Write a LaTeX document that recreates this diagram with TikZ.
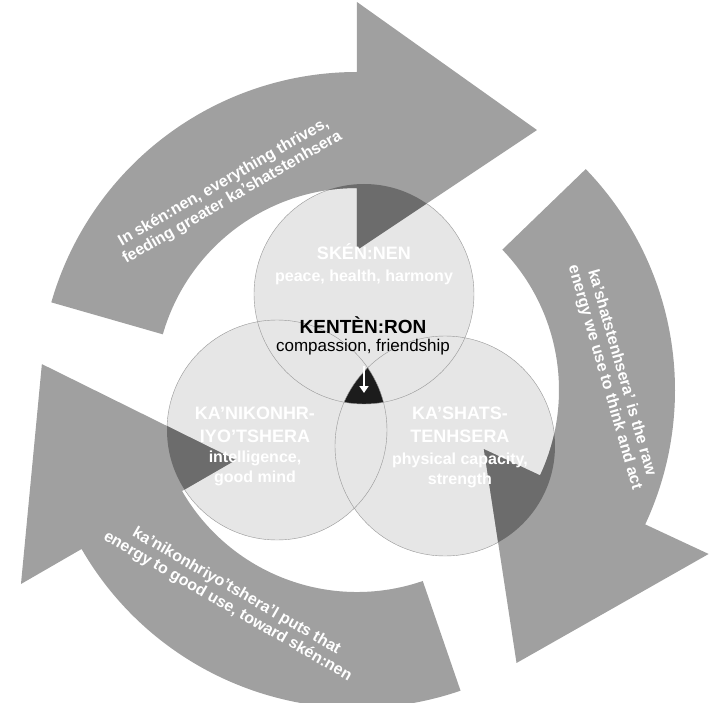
\documentclass[tikz,border=0pt]{standalone}
\usepackage{fontspec}
\setmainfont{Liberation Sans}
\usetikzlibrary{arrows.meta}
\definecolor{ringgray}{RGB}{160,160,160}
\definecolor{wedgegray}{RGB}{108,108,108}
\definecolor{discgray}{RGB}{230,230,230}
\definecolor{rimgray}{RGB}{150,150,150}
\definecolor{coregray}{RGB}{28,28,28}

% ring segment: #1 = tail angle, #2 = angle of the back of the head
\newcommand\ringarrow[2]{(#1:202) arc[start angle=#1, end angle=#2, radius=202]
  -- (#2:140) -- ({#2-34.7}:316.2) -- (#2:388) -- (#2:318)
  arc[start angle=#2, end angle=#1, radius=318] -- cycle}

\begin{document}
\begin{tikzpicture}[x=1pt,y=1pt,
  disc/.style={fill=discgray},
  rim/.style={draw=rimgray,line width=0.4pt},
  head/.style={text=white,font=\bfseries\fontsize{18}{23}\selectfont,align=center},
  note/.style={text=white,font=\bfseries\fontsize{16}{20}\selectfont,align=center},
  flow/.style={text=white,font=\bfseries\fontsize{16}{17.5}\selectfont,align=center}]
\useasboundingbox (-357,-312) rectangle (353,390);

% the three discs
\foreach \c in {(7,96),(-80,-40),(88,-56)}
  \fill[disc] \c circle[radius=110];
\begin{scope}
  \clip (7,96) circle[radius=110];
  \clip (-80,-40) circle[radius=110];
  \fill[coregray] (88,-56) circle[radius=110];
\end{scope}
\foreach \c in {(7,96),(-80,-40),(88,-56)}
  \draw[rim] \c circle[radius=110];

% the cycle of arrows
\fill[ringgray] \ringarrow{164}{90} \ringarrow{44}{-25} \ringarrow{-71}{-150};
\foreach \c in {(7,96),(-80,-40),(88,-56)}{
  \begin{scope}
    \clip \c circle[radius=110];
    \fill[wedgegray] \ringarrow{164}{90} \ringarrow{44}{-25} \ringarrow{-71}{-150};
  \end{scope}
}

\coordinate (coretop) at (7,24);
\coordinate (corebot) at (7,-3);
\draw[white,line width=2pt,-{Triangle[length=7pt,width=9pt]}] (coretop) -- (corebot);

% disc labels
\node[head] (skennen) at (7,138) {SKÉN:NEN};
\node[note] (peace) at (7,113) {peace, health, harmony};
\node[font=\bfseries\fontsize{19}{20}\selectfont] (kentenron) at (6,65) {KENTÈN:RON};
\node[font=\fontsize{17}{18}\selectfont] (compassion) at (6,43) {compassion, friendship};
\node[head] (kanikonhri) at (-102,-35) {KA'NIKONHR-\\IYO'TSHERA};
\node[note] (intelligence) at (-102,-78) {intelligence,\\good mind};
\node[head] (kashats) at (103,-35) {KA'SHATS-\\TENHSERA};
\node[note] (capacity) at (103,-80) {physical capacity,\\strength};

% arrow labels
\node[flow,rotate=30] (thrives) at (-129,200)
  {In skén:nen, everything thrives,\\feeding greater ka'shatstenhsera};
\node[flow,rotate=-74] (rawenergy) at (256,15)
  {ka'shatstenhsera' is the raw\\energy we use to think and act};
\node[flow,rotate=-30] (gooduse) at (-125,-209)
  {ka'nikonhriyo'tshera'l puts that\\energy to good use, toward skén:nen};
\end{tikzpicture}
\end{document}
